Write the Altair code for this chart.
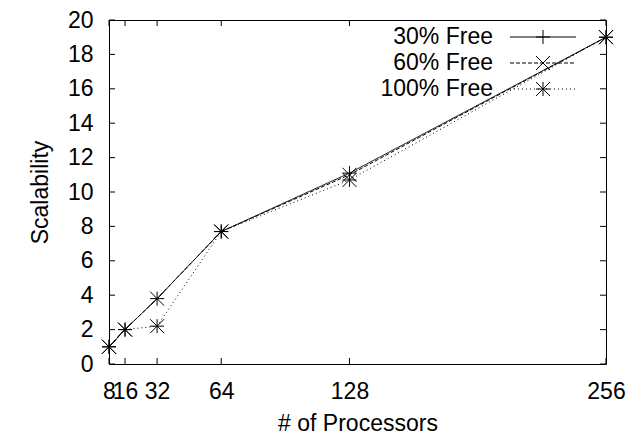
import altair as alt
import pandas as pd

# ---- data ----
processors = [8, 16, 32, 64, 128, 256]
free30 = [1.0, 2.0, 3.8, 7.7, 11.1, 19.0]
free60 = [1.0, 2.0, 3.8, 7.7, 11.0, 19.0]
free100 = [1.0, 2.0, 2.2, 7.7, 10.7, 19.0]
series_names = ["30% Free", "60% Free", "100% Free"]
y_ticks = [0, 2, 4, 6, 8, 10, 12, 14, 16, 18, 20]

W, H = 497, 344
FONT = "Liberation Sans"
FS = 23

rows = []
for name, vals in zip(series_names, [free30, free60, free100]):
    for p, v in zip(processors, vals):
        rows.append({"p": p, "v": v, "s": name})
df = pd.DataFrame(rows)

PLUS = "M-1,0L1,0M0,-1L0,1"
CROSS = "M-1,-1L1,1M-1,1L1,-1"
STAR = PLUS + CROSS
dashes = [[1, 0], [4, 2], [1, 3]]
shapes = [PLUS, CROSS, STAR]

xscale = alt.Scale(domain=[8, 256], nice=False, zero=False)
yscale = alt.Scale(domain=[0, 20], nice=False, zero=False)

x_axis = alt.Axis(values=processors, title="# of Processors", labelPadding=16,
                  labelOverlap=False, labelFlush=False, labelBound=False,
                  titleX=W / 2, titleY=66, titleBaseline="alphabetic",
                  titleAlign="center")
y_axis = alt.Axis(values=y_ticks, title="Scalability", labelPadding=16,
                  labelOverlap=False, labelFlush=False, labelBound=False,
                  titleX=-69, titleY=H / 2, titleAngle=-90,
                  titleAlign="center", titleBaseline="middle")


def X():
    return alt.X("p:Q", scale=xscale, axis=x_axis)


def Y():
    return alt.Y("v:Q", scale=yscale, axis=y_axis)


dash_scale = alt.Scale(domain=series_names, range=dashes)
shape_scale = alt.Scale(domain=series_names, range=shapes)

lines = alt.Chart(df).mark_line(color="black", strokeWidth=1).encode(
    x=X(), y=Y(),
    strokeDash=alt.StrokeDash("s:N", scale=dash_scale, legend=None),
    detail="s:N",
)
points = alt.Chart(df).mark_point(
    filled=False, color="black", strokeWidth=1, size=196, opacity=1
).encode(
    x=X(), y=Y(),
    shape=alt.Shape("s:N", scale=shape_scale, legend=None),
)

# inward (gnuplot style) ticks, mirrored on all four sides
yt = pd.DataFrame({"v": y_ticks})
xt = pd.DataFrame({"p": processors})
TL = 6
ytl = alt.Chart(yt).mark_rule(color="black", strokeWidth=1).encode(
    y=Y(), x=alt.value(0), x2=alt.value(TL))
ytr = alt.Chart(yt).mark_rule(color="black", strokeWidth=1).encode(
    y=Y(), x=alt.value(W - TL), x2=alt.value(W))
xtb = alt.Chart(xt).mark_rule(color="black", strokeWidth=1).encode(
    x=X(), y=alt.value(H), y2=alt.value(H - TL))
xtt = alt.Chart(xt).mark_rule(color="black", strokeWidth=1).encode(
    x=X(), y=alt.value(0), y2=alt.value(TL))

# legend (top-right, inside, gnuplot style: text then sample)
legend_layers = []
row_y = [17, 43, 69]
for name, dash, shp, ry in zip(series_names, dashes, shapes, row_y):
    ld = pd.DataFrame({"s": [name]})
    legend_layers.append(
        alt.Chart(ld).mark_text(align="right", baseline="middle", font=FONT,
                                fontSize=FS, color="black").encode(
            text="s:N", x=alt.value(384), y=alt.value(ry))
    )
    legend_layers.append(
        alt.Chart(ld).mark_rule(color="black", strokeWidth=1, strokeDash=dash).encode(
            x=alt.value(401), x2=alt.value(467), y=alt.value(ry))
    )
    legend_layers.append(
        alt.Chart(ld).mark_point(filled=False, color="black", strokeWidth=1,
                                 size=196, opacity=1, shape=shp).encode(
            x=alt.value(434), y=alt.value(ry))
    )

chart = alt.layer(lines, points, ytl, ytr, xtb, xtt, *legend_layers).properties(
    width=W, height=H,
    autosize=alt.AutoSizeParams(type="none"),
    padding={"left": 101, "top": 12, "right": 20, "bottom": 75},
    background="white",
).configure_view(
    stroke="black", strokeWidth=1, fill="white"
).configure_axis(
    domain=False, ticks=False, grid=False,
    labelFont=FONT, labelFontSize=FS, labelColor="black",
    titleFont=FONT, titleFontSize=FS, titleColor="black", titleFontWeight="normal",
)

chart.save("out.html", embed_options={"renderer": "svg", "actions": False})
